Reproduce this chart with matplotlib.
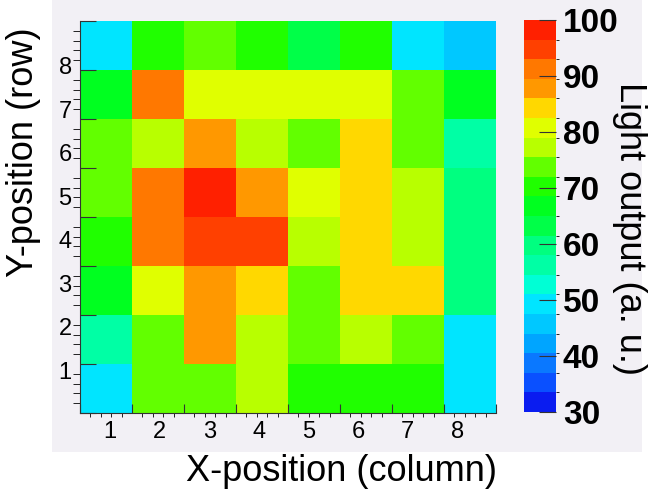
import numpy as np
import matplotlib.pyplot as plt
from matplotlib.colors import ListedColormap, BoundaryNorm
from matplotlib.patches import Rectangle

plt.rcParams['font.family'] = ['Liberation Sans', 'DejaVu Sans']

columns = ['1', '2', '3', '4', '5', '6', '7', '8']
rows = ['1', '2', '3', '4', '5', '6', '7', '8']
# light output per crystal, row 1 (bottom) .. row 8 (top), columns 1..8
light = np.array([
    [49, 74, 74, 77, 70, 70, 70, 49],
    [56, 74, 88, 77, 74, 77, 74, 49],
    [67, 81, 88, 84, 74, 84, 84, 60],
    [70, 91, 95, 95, 77, 84, 77, 60],
    [74, 91, 98, 88, 81, 84, 77, 60],
    [74, 77, 88, 77, 74, 84, 74, 56],
    [67, 91, 81, 81, 81, 81, 74, 67],
    [49, 70, 74, 70, 63, 70, 49, 46],
])
cbar_ticks = [30, 40, 50, 60, 70, 80, 90, 100]

# 20 contour colours, blue -> red (ROOT like palette)
palette = ['#0a1cf0', '#0a50ff', '#0a78ff', '#00a5ff', '#00c8ff',
           '#00e5ff', '#00ffd5', '#00ffa5', '#00ff80', '#00ff48',
           '#00ff20', '#20ff00', '#62ff00', '#b8ff00', '#e0ff00',
           '#ffd800', '#ff9800', '#ff7800', '#ff4000', '#ff2000']
levels = np.linspace(30, 100, 21)
cmap = ListedColormap(palette)
norm = BoundaryNorm(levels, cmap.N)

W, H = 654, 491
fig = plt.figure(figsize=(W / 100, H / 100), dpi=100)
fig.patches.append(Rectangle((52 / W, 39 / H), 590 / W, 452 / H,
                             transform=fig.transFigure, facecolor='#f2f0f5',
                             edgecolor='none', zorder=-10))

ax = fig.add_axes([80 / W, 78 / H, 416 / W, 392 / H])
edges = np.arange(0.5, 9, 1)
mesh = ax.pcolormesh(edges, edges, light, cmap=cmap, norm=norm)
ax.set_xlim(0.5, 8.5)
ax.set_ylim(0.5, 8.5)

ax.set_xticks(edges)
ax.set_yticks(edges)
ax.set_xticks(np.arange(0.5, 8.51, 0.2), minor=True)
ax.set_yticks(np.arange(0.5, 8.51, 0.2), minor=True)
ax.tick_params(labelbottom=False, labelleft=False, direction='in',
               color='#333333', width=0.8)
ax.tick_params(axis='x', which='major', length=6.5)
ax.tick_params(axis='x', which='minor', length=3)
ax.tick_params(axis='y', which='major', length=11.5)
ax.tick_params(axis='y', which='minor', length=5)
for s in ['top', 'right']:
    ax.spines[s].set_visible(False)
for s in ['left', 'bottom']:
    ax.spines[s].set_color('#333333')
    ax.spines[s].set_linewidth(0.8)

# labels are drawn on their own spacing (slightly tighter than the bins)
for i, lab in enumerate(columns):
    ax.annotate(lab, xy=(1.077 + 0.954 * i, 0), xycoords=('data', 'axes fraction'),
                xytext=(0, -6), textcoords='offset points',
                ha='center', va='top', fontsize=17)
for i, lab in enumerate(rows):
    ax.annotate(lab, xy=(0, 1.316 + 0.889 * i), xycoords=('axes fraction', 'data'),
                xytext=(-6, 0), textcoords='offset points',
                ha='right', va='center', fontsize=17)

cax = fig.add_axes([524 / W, 79 / H, 32 / W, 392 / H])
cb = fig.colorbar(mesh, cax=cax, ticks=cbar_ticks)
cb.outline.set_visible(False)
cax.tick_params(direction='in', length=12, width=0.8, color='#333333',
                pad=5, labelsize=24)
for t in cax.get_yticklabels():
    t.set_fontweight('bold')

fig.text(342 / W, 10 / H, 'X-position (column)', ha='center', va='baseline', fontsize=26)
fig.text(24 / W, (H - 152) / H, 'Y-position (row)', rotation=90,
         ha='center', va='center', fontsize=26)
fig.text(630 / W, (H - 228) / H, 'Light output (a. u.)', rotation=270,
         ha='center', va='center', fontsize=26)

fig.savefig('out.png', dpi=100)
